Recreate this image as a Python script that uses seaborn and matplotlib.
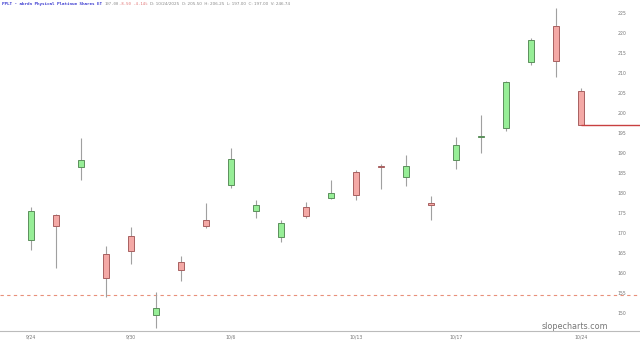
import numpy as np
import pandas as pd
import matplotlib
matplotlib.use("Agg")
import matplotlib.pyplot as plt
import seaborn as sns

# ---- data ----
dates = ["9/24", "9/25", "9/26", "9/29", "9/30", "10/1", "10/2", "10/3",
         "10/6", "10/7", "10/8", "10/9", "10/10", "10/13", "10/14", "10/15",
         "10/16", "10/17", "10/20", "10/21", "10/22", "10/23", "10/24"]
opens  = [168.25, 174.50, 186.50, 164.75, 169.25, 149.50, 162.75, 173.25,
          182.00, 175.50, 169.00, 176.50, 178.75, 185.25, 186.75, 184.00,
          177.50, 188.25, 194.00, 196.25, 212.75, 221.75, 205.50]
closes = [175.50, 171.75, 188.25, 158.75, 165.50, 151.25, 160.75, 171.75,
          188.50, 177.00, 172.50, 174.25, 180.00, 179.50, 186.50, 186.75,
          177.00, 192.00, 194.25, 207.75, 218.25, 213.00, 197.00]
highs  = [176.50, 174.75, 193.75, 166.75, 171.50, 155.25, 164.25, 177.50,
          191.25, 178.25, 173.25, 177.75, 183.25, 185.75, 187.25, 189.50,
          179.25, 194.00, 199.50, 208.00, 218.75, 226.25, 206.25]
lows   = [165.75, 161.25, 183.25, 154.00, 162.25, 146.25, 158.00, 171.25,
          181.25, 173.75, 167.75, 173.75, 178.50, 178.25, 181.00, 181.75,
          173.25, 186.00, 190.00, 195.50, 212.00, 209.00, 197.00]
label_idx = [0, 4, 8, 13, 17, 22]
y_ticks = list(range(150, 230, 5))
last_price = 197.00
dashed_level = 154.5

df = pd.DataFrame({"date": dates, "open": opens, "close": closes,
                   "high": highs, "low": lows})
df["i"] = np.arange(len(df))
df["up"] = df["close"] >= df["open"]

sns.set_theme(style="white")
fig = plt.figure(figsize=(6.4, 3.42), dpi=100)
ax = fig.add_axes([0, 11/342, 1, 331/342])

up_fill, up_edge = "#97ee97", "#5c8f5c"
dn_fill, dn_edge = "#f4a9a6", "#a86060"

# wicks
ax.vlines(df["i"], df["low"], df["high"], color="#a0a0a0", lw=0.8, zorder=1)
# bodies
for up, fill, edge in [(True, up_fill, up_edge), (False, dn_fill, dn_edge)]:
    sub = df[df["up"] == up]
    bottom = np.minimum(sub["open"], sub["close"])
    height = np.maximum(np.abs(sub["close"] - sub["open"]), 0.25)
    ax.bar(sub["i"], height, bottom=bottom, width=0.26, color=fill,
           edgecolor=edge, linewidth=0.7, zorder=2)

# dashed level and last-price line
ax.axhline(dashed_level, color="#e8907a", lw=0.8, ls=(0, (3, 3)), zorder=0)
ax.hlines(last_price, len(df) - 1, 30, color="#c84040", lw=1.0, zorder=3)

ax.set_xlim(-1.24, 24.36)
ax.set_ylim(145.5, 228.25)

ax.set_xticks(label_idx)
ax.set_xticklabels([dates[k] for k in label_idx])
ax.set_yticks(y_ticks)
ax.yaxis.tick_right()
ax.tick_params(axis="y", which="both", direction="in", length=0, pad=-16,
               labelsize=3.3, labelcolor="#777777")
for t in ax.get_yticklabels():
    t.set_horizontalalignment("left")
ax.tick_params(axis="x", length=0, pad=2.5, labelsize=3.3, labelcolor="#777777")

for s in ["top", "left", "right"]:
    ax.spines[s].set_visible(False)
ax.spines["bottom"].set_color("#bbbbbb")
ax.spines["bottom"].set_linewidth(0.8)
ax.grid(False)

# header
chg = last_price - opens[-1]
pct = chg / opens[-1] * 100
hy = 0.989
mono = "DejaVu Sans Mono"
fig.text(0.003, hy, "PPLT - abrdn Physical Platinum Shares ET", fontsize=3.1,
         color="#3a3ad0", va="center", ha="left", family=mono, weight="bold")
fig.text(0.163, hy, f"{last_price:.2f}", fontsize=2.8, color="#888888",
         va="center", family=mono)
fig.text(0.186, hy, f"{chg:.2f} {pct:.2f}%", fontsize=2.8, color="#e07070",
         va="center", family=mono)
fig.text(0.234, hy,
         f"D: 10/24/2025  O: {opens[-1]:.2f}  H: {highs[-1]:.2f}  "
         f"L: {lows[-1]:.2f}  C: {closes[-1]:.2f}  V: 246.74",
         fontsize=3.0, color="#888888", va="center", family="DejaVu Sans")

fig.text(0.95, 0.045, "slopecharts.com", fontsize=5.8, color="#777777",
         ha="right", va="center")

fig.savefig("out.png", dpi=100)
